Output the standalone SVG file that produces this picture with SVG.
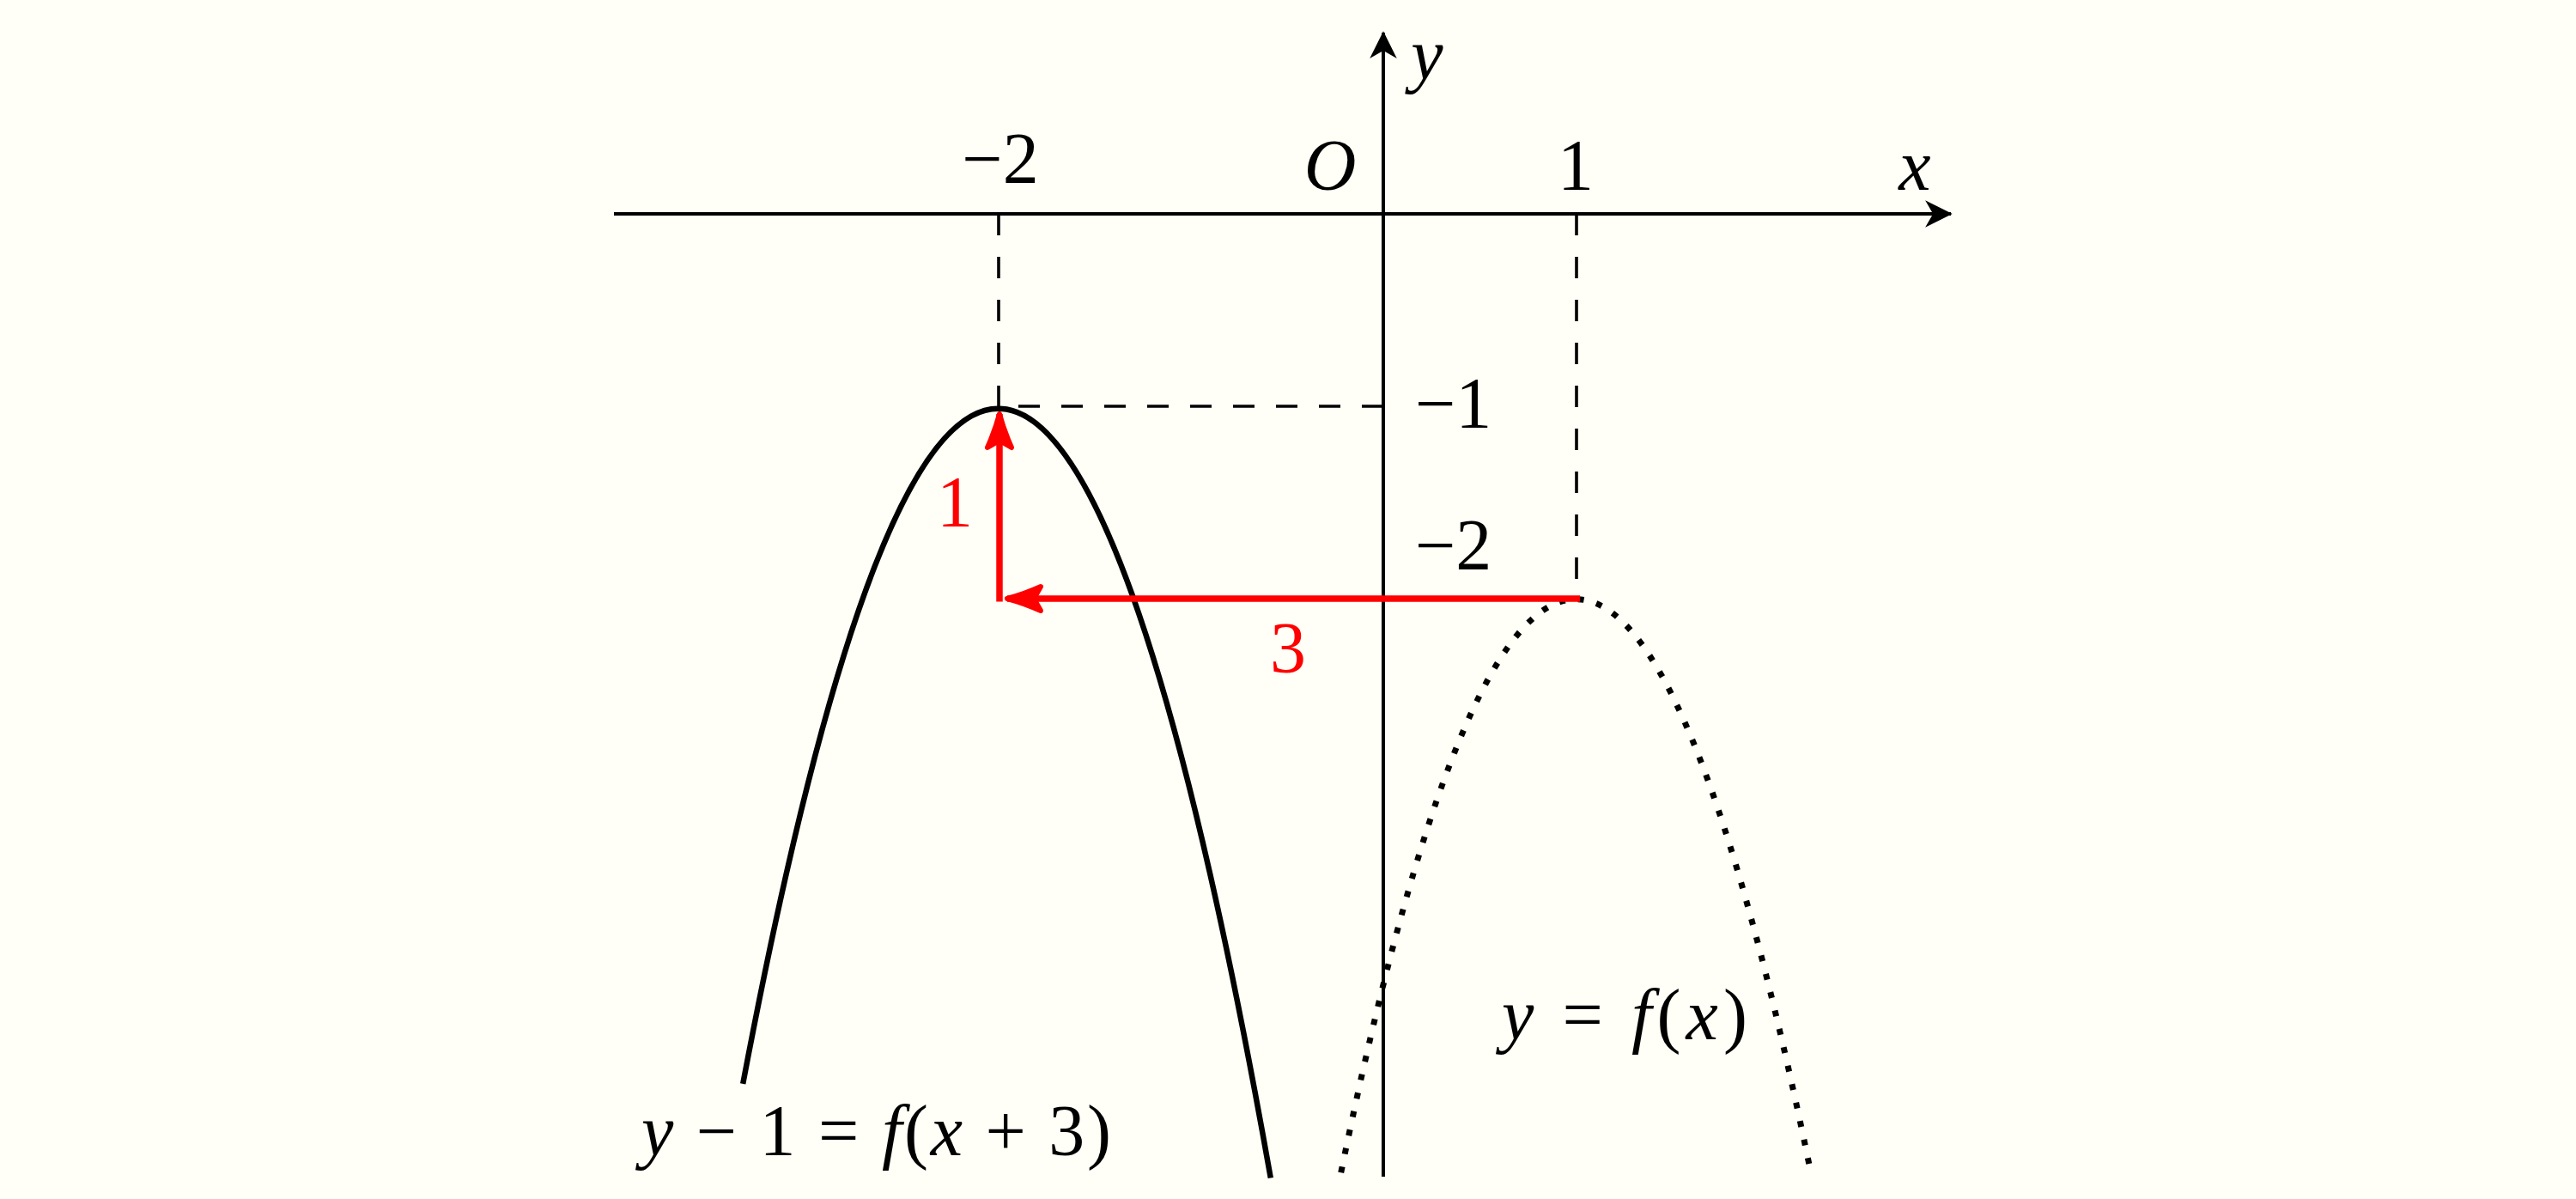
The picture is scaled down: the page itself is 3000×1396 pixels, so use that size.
<svg xmlns="http://www.w3.org/2000/svg" width="3000" height="1396" viewBox="0 0 3000 1396">
<style>
.bg{fill:#fffff7}
.axis{stroke:#000;stroke-width:4;fill:none}
.dash{stroke:#000;stroke-width:3.6;fill:none;stroke-dasharray:25 25}
.solid{stroke:#000;stroke-width:6.5;fill:none}
.dot{stroke:#000;stroke-width:7;fill:none;stroke-dasharray:7 15}
.red{stroke:#ff0000;stroke-width:7.5;fill:none}
.lbl{font-family:'Liberation Serif','DejaVu Serif',serif;font-size:84px;fill:#000}
.it{font-style:italic}
.rl{fill:#ff0000}
</style>
<defs>
<marker id="axisArrow" viewBox="-34 -18 38 36" refX="0" refY="0" markerWidth="38" markerHeight="36" markerUnits="userSpaceOnUse" orient="auto">
<path d="M0,0 L-28,-14 L-20,0 L-28,14 Z" fill="#000" stroke="#000" stroke-width="1.5" stroke-linejoin="miter"/>
</marker>
<marker id="redArrow" viewBox="-52 -26 58 52" refX="0" refY="0" markerWidth="58" markerHeight="52" markerUnits="userSpaceOnUse" orient="auto">
<path d="M0,0 Q-19,-5 -39,-14 L-31,0 L-39,14 Q-19,5 0,0 Z" fill="#ff0000" stroke="#ff0000" stroke-width="6" stroke-linecap="round" stroke-linejoin="round"/>
</marker>
</defs>
<rect class="bg" x="0" y="0" width="3000" height="1396"/>
<g id="axes">
<line class="axis" x1="715" y1="249" x2="2272" y2="249" marker-end="url(#axisArrow)"/>
<line class="axis" x1="1611" y1="1370" x2="1611" y2="38" marker-end="url(#axisArrow)"/>
</g>
<g id="guides">
<line class="dash" x1="1163" y1="249" x2="1163" y2="473"/>
<line class="dash" x1="1836" y1="249" x2="1836" y2="697"/>
<line class="dash" x1="1611" y1="473" x2="1163" y2="473"/>
</g>
<g id="curve-shifted">
<path class="solid" d="M865.2,1261.9 Q1172.4,-363.6 1479.8,1371.5"/>
</g>
<g id="curve-f">
<path class="dot" d="M1561.7,1365.3 Q1835.3,29.9 2108.9,1365.3"/>
</g>
<g id="connectors">
<line class="red" x1="1840" y1="697" x2="1173" y2="697" marker-end="url(#redArrow)"/>
<line class="red" x1="1164" y1="700.5" x2="1164" y2="482" marker-end="url(#redArrow)"/>
</g>
<g id="labels">
<text class="lbl" x="1165" y="213" text-anchor="middle">−2</text>
<text class="lbl it" x="1549" y="221" text-anchor="middle">O</text>
<text class="lbl" x="1835" y="221" text-anchor="middle">1</text>
<text class="lbl it" x="2230" y="221" text-anchor="middle">x</text>
<text class="lbl it" x="1662" y="92" text-anchor="middle">y</text>
<text class="lbl" x="1648" y="498">−1</text>
<text class="lbl" x="1648" y="663">−2</text>
<text class="lbl rl" x="1112" y="613" text-anchor="middle">1</text>
<text class="lbl rl" x="1500" y="783" text-anchor="middle">3</text>
<text class="lbl" x="747" y="1345" textLength="547" lengthAdjust="spacing"><tspan class="it">y</tspan> − 1 = <tspan class="it">f</tspan>(<tspan class="it">x</tspan> + 3)</text>
<text class="lbl" x="1749" y="1210" textLength="286" lengthAdjust="spacing"><tspan class="it">y</tspan> = <tspan class="it">f</tspan>(<tspan class="it">x</tspan>)</text>
</g>
</svg>
